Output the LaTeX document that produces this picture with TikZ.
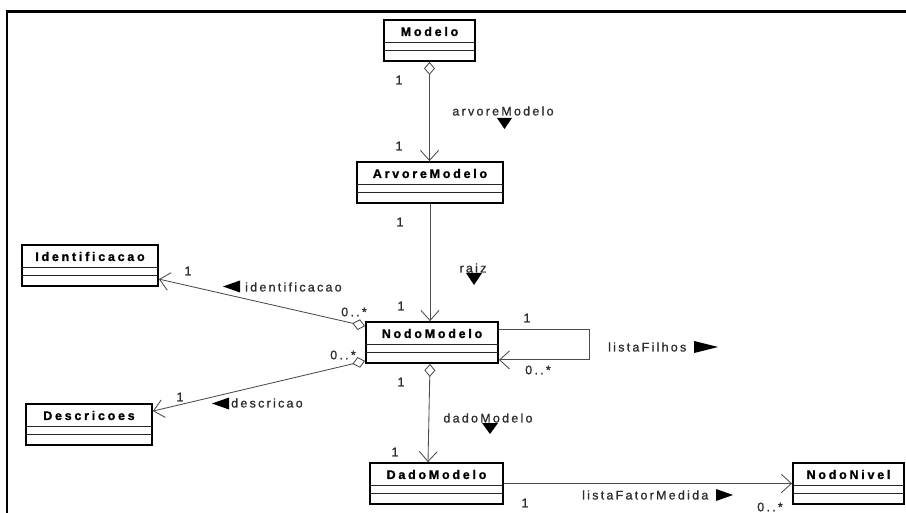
\documentclass[tikz,border=0pt]{standalone}
\usepackage{fontspec}
\usetikzlibrary{arrows.meta}
\newfontfamily\lblfont{Liberation Sans}[LetterSpace=18,FakeBold=1]
\newfontfamily\clsfont{Liberation Sans}[LetterSpace=22,BoldFeatures={FakeBold=1.2}]
\definecolor{linegray}{RGB}{75,75,75}
\definecolor{txtgray}{RGB}{45,45,45}
\tikzset{
  classbox/.style={draw=black, line width=1.8pt, minimum height=41pt, inner sep=0pt},
  clsname/.style={font=\clsfont\fontsize{12.5}{14}\selectfont\bfseries, inner sep=0pt},
  sepline/.style={line width=0.7pt, draw=black!85},
  assoc/.style={draw=linegray, line width=0.85pt},
  nav/.style={-{Straight Barb[length=10pt,width=18pt]}},
  agnav/.style={{Diamond[open,length=13pt,width=11pt,fill=white]}-{Straight Barb[length=10pt,width=18pt]}},
  lbl/.style={font=\lblfont\fontsize{12.5}{14}\selectfont, text=txtgray, inner sep=0pt},
  tri/.style={fill=black},
  frame/.style={line width=2.3pt, draw=black},
}
\newcommand\UMLclass[5]{%
  \node[classbox, minimum width=#4pt] (#1) at (#2, #3+20.5) {};
  \node[clsname] (#1-name) at (#2, #3+11.5) {#5};
  \draw[sepline] ([xshift=0.9pt,yshift=-23.5pt]#1.north west) -- ([xshift=-0.9pt,yshift=-23.5pt]#1.north east);
  \draw[sepline] ([xshift=0.9pt,yshift=-31.5pt]#1.north west) -- ([xshift=-0.9pt,yshift=-31.5pt]#1.north east);
}
\begin{document}
\begin{tikzpicture}[x=1pt,y=-1pt]
\useasboundingbox (0,0) rectangle (906,513);
\draw[frame] (906,11.5) -- (7,11.5) -- (7,513);

\UMLclass{Modelo}{429.5}{20}{91}{Modelo}
\UMLclass{ArvoreModelo}{430}{162}{146}{ArvoreModelo}
\UMLclass{Identificacao}{90}{245}{136}{Identificacao}
\UMLclass{Descricoes}{89}{404}{126}{Descricoes}
\UMLclass{NodoModelo}{432}{322}{132}{NodoModelo}
\UMLclass{DadoModelo}{436.5}{463}{133}{DadoModelo}
\UMLclass{NodoNivel}{848.5}{463}{111}{NodoNivel}

% connectors
\draw[assoc, agnav] (Modelo.south) -- (Modelo.south |- ArvoreModelo.north);
\draw[assoc, nav] (ArvoreModelo.south) -- (ArvoreModelo.south |- NodoModelo.north);
\draw[assoc, agnav] ([xshift=-2pt]NodoModelo.south) -- ([xshift=-8.5pt]DadoModelo.north);
\draw[assoc, agnav] ([yshift=-5pt]NodoModelo.north west) -- ([yshift=-35pt]Identificacao.north east);
\draw[assoc, agnav] ([yshift=3pt]NodoModelo.south west) -- ([yshift=-8pt]Descricoes.north east);
\draw[assoc, nav] ([yshift=-8pt]NodoModelo.north east) -- ++(91,0) |- ([yshift=4pt]NodoModelo.south east);
\draw[assoc, nav] (DadoModelo.east) -- (DadoModelo.east -| NodoNivel.west);

% labels
\node[lbl] (m1) at (399,80) {1};
\node[lbl] (m2) at (399,146) {1};
\node[lbl] (larv) at (503,111) {arvoreModelo};
\fill[tri] (497,118) -- (512,118) -- (504.5,129) -- cycle;

\node[lbl] (a1) at (400,222) {1};
\node[lbl] (lraiz) at (473,268) {raiz};
\fill[tri] (466,273) -- (482,273) -- (474,285) -- cycle;
\node[lbl] (n1) at (401,306) {1};

\node[lbl] (i1) at (188,271) {1};
\node[lbl] (i2) at (354,312) {0..*};
\fill[tri] (223,286.5) -- (240,280.5) -- (240,292.5) -- cycle;
\node[lbl, anchor=west] (lident) at (245,287) {identificacao};

\node[lbl] (d1) at (180,397) {1};
\node[lbl] (d2) at (343,355) {0..*};
\fill[tri] (212,403.5) -- (229,397.5) -- (229,409.5) -- cycle;
\node[lbl, anchor=west] (ldesc) at (231,403) {descricao};

\node[lbl] (f1) at (527,318) {1};
\node[lbl] (f2) at (538,370) {0..*};
\node[lbl, anchor=west] (lfilhos) at (608,347) {listaFilhos};
\fill[tri] (694,341) -- (718,347) -- (694,353) -- cycle;

\node[lbl] (dm1) at (401,382) {1};
\node[lbl] (ldado) at (488,418) {dadoModelo};
\fill[tri] (482,423) -- (498,423) -- (490,434) -- cycle;
\node[lbl] (dm2) at (395,452) {1};

\node[lbl] (fm1) at (525,503) {1};
\node[lbl, anchor=west] (lfator) at (582,495) {listaFatorMedida};
\fill[tri] (716,489) -- (733,495) -- (716,501) -- cycle;
\node[lbl] (fm2) at (770,507) {0..*};
\end{tikzpicture}
\end{document}
